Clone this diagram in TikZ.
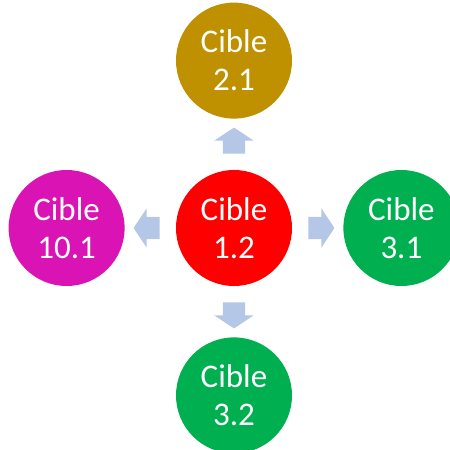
\documentclass[tikz,border=0pt]{standalone}
\usepackage{fontspec}
\setmainfont{Carlito}
\usetikzlibrary{positioning,shapes.arrows}

\definecolor{gold}{HTML}{BF9000}
\definecolor{vert}{HTML}{00B050}
\definecolor{magenta}{HTML}{DA14B4}
\definecolor{bleu}{HTML}{B4C7E7}

\begin{document}
\begin{tikzpicture}[node distance=51pt,
  main node/.style={circle,draw=none,minimum size=116pt,inner sep=0pt,text=white,align=center,font=\fontsize{33}{38}\selectfont},
  fleche/.style={single arrow,draw=none,fill=bleu,text height=22pt,text depth=0pt,minimum height=26pt,single arrow head extend=8.5pt,single arrow tip angle=113,single arrow head indent=0pt,inner sep=0pt}]

 \useasboundingbox (-234pt,-222pt) rectangle (216pt,228pt);

 \node[main node,fill=red] (c12) {Cible\\1.2};
 \node[main node,fill=gold] (c21) [above=of c12] {Cible\\2.1};
 \node[main node,fill=vert] (c31) [right=of c12] {Cible\\3.1};
 \node[main node,fill=vert] (c32) [below=of c12] {Cible\\3.2};
 \node[main node,fill=magenta] (c101) [left=of c12] {Cible\\10.1};

 % fleches
 \path (c12) -- (c21) node[fleche,midway,rotate=90] {};
 \path (c12) -- (c31) node[fleche,midway] {};
 \path (c12) -- (c32) node[fleche,midway,rotate=-90] {};
 \path (c12) -- (c101) node[fleche,midway,rotate=180] {};

\end{tikzpicture}
\end{document}
